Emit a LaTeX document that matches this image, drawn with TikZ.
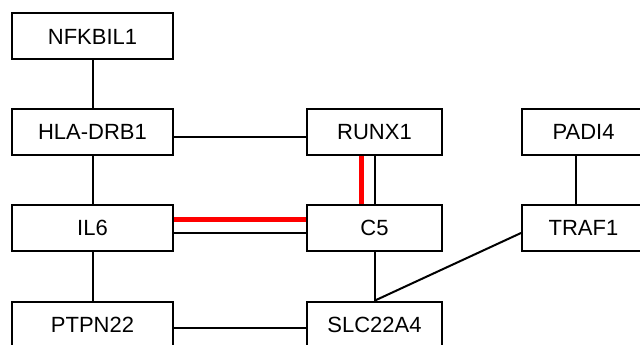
\documentclass[tikz,border=0pt]{standalone}
\usepackage{fontspec}
\setmainfont{Liberation Sans}
\usetikzlibrary{calc}

\tikzset{
  gene/.style={draw, line width=2pt, fill=white, inner sep=0pt,
    minimum width=161pt, minimum height=46pt, font=\fontsize{22}{26}\selectfont},
  genemid/.style={gene, minimum width=135pt},
  link/.style={line width=2pt},
  hotlink/.style={line width=5pt, red}
}

\begin{document}
\begin{tikzpicture}[x=1pt, y=-1pt]
  \useasboundingbox (0,0) rectangle (640,345);
  \clip (0,0) rectangle (640,345);
  \fill[white] (0,0) rectangle (640,345);

  % Columna izquierda
  \node[gene] (nfkbil) at (92.5, 36.5) {NFKBIL1};
  \node[gene] (hla) at (92.5, 132) {HLA-DRB1};
  \node[gene] (il6) at (92.5, 228) {IL6};
  \node[gene] (ptpn) at (92.5, 324.5) {PTPN22};

  % Columna central
  \node[genemid] (runx) at (374.5, 132) {RUNX1};
  \node[genemid] (c5) at (374.5, 228) {C5};
  \node[genemid] (slc) at (374.5, 324.5) {SLC22A4};

  % Columna derecha (cortada por el borde)
  \node[gene, minimum width=123pt] (padi) at (583.5, 132) {PADI4};
  \node[gene, minimum width=123pt] (traf) at (583.5, 228) {TRAF1};

  % Enlaces verticales
  \draw[link] (nfkbil.south) -- (hla.north);
  \draw[link] (hla.south) -- (il6.north);
  \draw[link] (il6.south) -- (ptpn.north);
  \draw[link] (c5.south) -- (slc.north);
  \draw[link] ($(padi.south)+(-7.5,0)$) -- ($(traf.north)+(-7.5,0)$);

  % Enlaces horizontales
  \draw[link] ($(hla.east)+(0,5)$) -- ($(runx.west)+(0,5)$);
  \draw[link] ($(ptpn.east)+(0,3.5)$) -- ($(slc.west)+(0,3.5)$);
  \draw[link] ($(il6.east)+(0,5)$) -- ($(c5.west)+(0,5)$);
  \draw[hotlink] ($(il6.east)+(0,-9)$) -- ($(c5.west)+(0,-9)$);

  % Enlace doble RUNX1 - C5
  \draw[link] ($(runx.south)+(0.5,0)$) -- ($(c5.north)+(0.5,0)$);
  \draw[hotlink] ($(runx.south)+(-13.5,0)$) -- ($(c5.north)+(-13.5,0)$);

  % Diagonal SLC22A4 - TRAF1
  \draw[link] ($(slc.north)+(0.5,0)$) -- ($(traf.west)+(0,5)$);
\end{tikzpicture}
\end{document}
